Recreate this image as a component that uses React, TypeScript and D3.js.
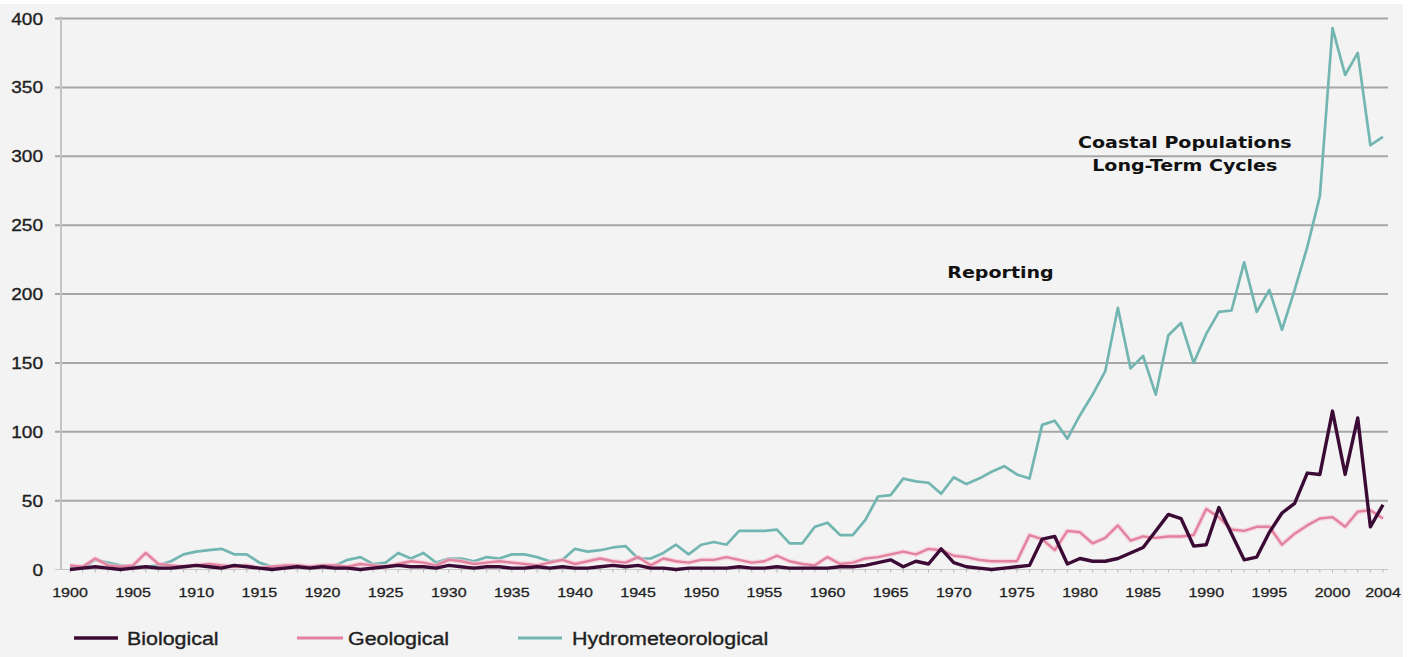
import React from "react";
import * as d3 from "d3";

const years: number[] = d3.range(1900, 2005);

const hydrometeorological: number[] = [
  2, 1, 7, 5, 3, 2, 2, 3, 6, 11, // 1900s
  13, 14, 15, 11, 11, 5, 2, 2, 3, 2, // 1910s
  3, 3, 7, 9, 4, 5, 12, 8, 12, 5, // 1920s
  8, 8, 6, 9, 8, 11, 11, 9, 6, 7, // 1930s
  15, 13, 14, 16, 17, 8, 8, 12, 18, 11, // 1940s
  18, 20, 18, 28, 28, 28, 29, 19, 19, 31, // 1950s
  34, 25, 25, 36, 53, 54, 66, 64, 63, 55, // 1960s
  67, 62, 66, 71, 75, 69, 66, 105, 108, 95, // 1970s
  112, 127, 144, 190, 146, 155, 127, 170, 179, 150, // 1980s
  171, 187, 188, 223, 187, 203, 174, 203, 234, 271, // 1990s
  393, 359, 375, 308, 314, // 2000s
];

const geological: number[] = [
  3, 2, 8, 3, 2, 3, 12, 4, 3, 2, // 1900s
  3, 4, 3, 2, 3, 1, 2, 3, 3, 2, // 1910s
  3, 3, 2, 4, 3, 2, 4, 6, 5, 3, // 1920s
  7, 6, 4, 5, 6, 5, 4, 3, 5, 7, // 1930s
  4, 6, 8, 6, 5, 9, 3, 8, 6, 5, // 1940s
  7, 7, 9, 7, 5, 6, 10, 6, 4, 3, // 1950s
  9, 4, 5, 8, 9, 11, 13, 11, 15, 14, // 1960s
  10, 9, 7, 6, 6, 6, 25, 22, 14, 28, // 1970s
  27, 19, 23, 32, 21, 24, 23, 24, 24, 25, // 1980s
  44, 38, 29, 28, 31, 31, 18, 26, 32, 37, // 1990s
  38, 31, 42, 43, 37, // 2000s
];

const biological: number[] = [
  0, 1, 2, 1, 0, 1, 2, 1, 1, 2, // 1900s
  3, 2, 1, 3, 2, 1, 0, 1, 2, 1, // 1910s
  2, 1, 1, 0, 1, 2, 3, 2, 2, 1, // 1920s
  3, 2, 1, 2, 2, 1, 1, 2, 1, 2, // 1930s
  1, 1, 2, 3, 2, 3, 1, 1, 0, 1, // 1940s
  1, 1, 1, 2, 1, 1, 2, 1, 1, 1, // 1950s
  1, 2, 2, 3, 5, 7, 2, 6, 4, 15, // 1960s
  5, 2, 1, 0, 1, 2, 3, 22, 24, 4, // 1970s
  8, 6, 6, 8, 12, 16, 28, 40, 37, 17, // 1980s
  18, 45, 26, 7, 9, 27, 41, 48, 70, 69, // 1990s
  115, 69, 110, 31, 47, // 2000s
];

const yTicks: number[] = [0, 50, 100, 150, 200, 250, 300, 350, 400];
const xTickLabels: number[] = [
  1900, 1905, 1910, 1915, 1920, 1925, 1930, 1935, 1940, 1945, 1950,
  1955, 1960, 1965, 1970, 1975, 1980, 1985, 1990, 1995, 2000, 2004,
];

const seriesNames = ["Biological", "Geological", "Hydrometeorological"];
const annotations = [
  { text: "Reporting", x: 1973.7, y: 216 },
  { text: "Coastal Populations", x: 1988.3, y: 310 },
  { text: "Long-Term Cycles", x: 1988.3, y: 293.5 },
];

const SX = 1.19;

export default function App() {
  const W = 1415;
  const H = 657;
  const x = d3.scaleLinear().domain([1900, 2004]).range([70, 1383]);
  const y = d3.scaleLinear().domain([0, 400]).range([569.5, 18.5]);

  const line = d3
    .line<number>()
    .x((_, i) => x(years[i]))
    .y((d) => y(d));

  const colors = {
    bio: "#3b0a35",
    geo: "#e2829f",
    hyd: "#72b5b1",
  };

  const legendItems = [
    { name: seriesNames[0], color: colors.bio, x1: 74, x2: 118, tx: 127, w: 3.5 },
    { name: seriesNames[1], color: colors.geo, x1: 297, x2: 343, tx: 348, w: 3 },
    { name: seriesNames[2], color: colors.hyd, x1: 518, x2: 562, tx: 572, w: 3 },
  ];

  const txt = (
    key: string,
    tx: number,
    ty: number,
    s: string,
    opts: {
      size: number;
      anchor?: string;
      weight?: string;
      family?: string;
      fill?: string;
      stroke?: number;
    }
  ) => (
    <text
      key={key}
      transform={`translate(${tx},${ty}) scale(${SX},1)`}
      fontSize={opts.size}
      textAnchor={opts.anchor || "start"}
      fontWeight={opts.weight || "normal"}
      fontFamily={opts.family || "'Liberation Sans', Arial, sans-serif"}
      fill={opts.fill || "#1f1f1f"}
      stroke={opts.stroke ? opts.fill || "#1f1f1f" : "none"}
      strokeWidth={opts.stroke || 0}
    >
      {s}
    </text>
  );

  return (
    <svg
      width={W}
      height={H}
      style={{ position: "absolute", left: 0, top: 0, display: "block" }}
    >
      <rect x={0} y={0} width={W} height={H} fill="#ffffff" />
      <rect x={0} y={4} width={1403} height={H - 4} fill="#f3f3f3" />

      {/* gridlines */}
      {yTicks
        .filter((t) => t > 0)
        .map((t) => (
          <line
            key={"g" + t}
            x1={55}
            x2={1388}
            y1={y(t)}
            y2={y(t)}
            stroke="#a6a6a6"
            strokeWidth={2}
          />
        ))}
      {/* y axis line */}
      <line x1={61} x2={61} y1={y(400) - 2} y2={y(0)} stroke="#c4c4c4" strokeWidth={2} />
      {/* x axis with year ticks */}
      <line x1={55} x2={1388} y1={y(0)} y2={y(0)} stroke="#c8c8c8" strokeWidth={1.2} />
      {years.map((yr) => (
        <line
          key={"t" + yr}
          x1={x(yr)}
          x2={x(yr)}
          y1={y(0)}
          y2={y(0) + 3}
          stroke="#b5b5b5"
          strokeWidth={1}
        />
      ))}

      {/* y labels */}
      {yTicks.map((t) =>
        txt("yl" + t, 43, y(t) + 6, String(t), { size: 16, anchor: "end", stroke: 0.35 })
      )}
      {/* x labels */}
      {xTickLabels.map((yr) =>
        txt("xl" + yr, x(yr), 597, String(yr), { size: 13.5, anchor: "middle", stroke: 0.3 })
      )}

      {/* series */}
      <path d={line(hydrometeorological) || ""} fill="none" stroke={colors.hyd} strokeWidth={2.7} strokeLinejoin="round" />
      <path d={line(geological) || ""} fill="none" stroke="#f7c6d6" strokeWidth={5} strokeLinejoin="round" opacity={0.6} />
      <path d={line(geological) || ""} fill="none" stroke={colors.geo} strokeWidth={2.4} strokeLinejoin="round" />
      <path d={line(biological) || ""} fill="none" stroke={colors.bio} strokeWidth={3.4} strokeLinejoin="round" />

      {/* annotations */}
      {annotations.map((a, i) =>
        txt("an" + i, x(a.x), y(a.y) + 6, a.text, {
          size: 16,
          anchor: "middle",
          weight: "bold",
          family: "'DejaVu Sans', Verdana, sans-serif",
          fill: "#111",
        })
      )}

      {/* legend */}
      {legendItems.map((l) => (
        <g key={l.name}>
          <line x1={l.x1} x2={l.x2} y1={638} y2={638} stroke={l.color} strokeWidth={l.w} />
          {txt("lg" + l.name, l.tx, 644.5, l.name, { size: 18, stroke: 0.35 })}
        </g>
      ))}
    </svg>
  );
}
